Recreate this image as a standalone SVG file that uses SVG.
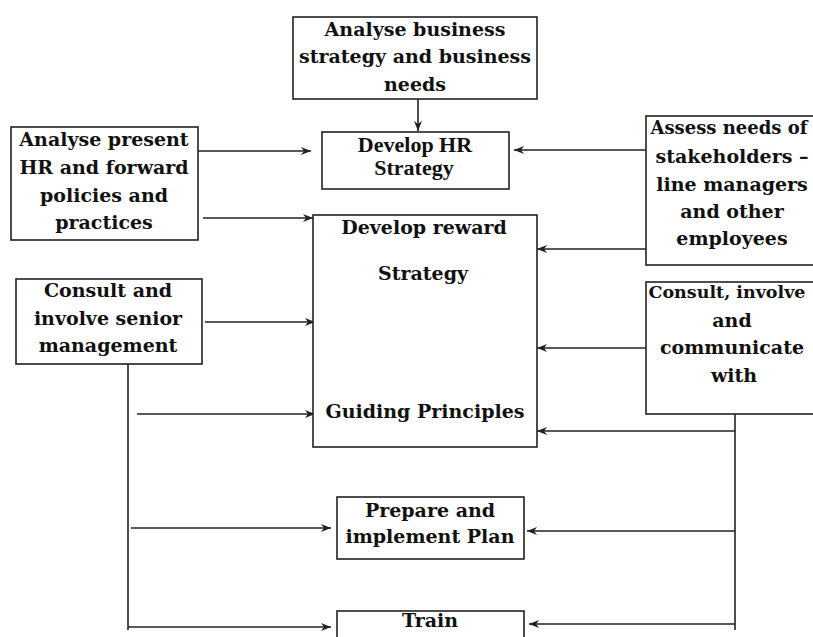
<svg xmlns="http://www.w3.org/2000/svg" width="813" height="637" viewBox="0 0 813 637">
<defs>
<marker id="ah" markerWidth="12" markerHeight="10" refX="10" refY="4" orient="auto" markerUnits="userSpaceOnUse">
<path d="M0,0 L10,4 L0,8 L3,4 z" fill="#222"/>
</marker>
<style>
.box{fill:#fff;stroke:#222;stroke-width:1.6}
.t{font-family:"DejaVu Serif","Liberation Serif",serif;font-weight:bold;font-size:19px;fill:#111;text-anchor:middle}
.c{font-family:"Liberation Serif","DejaVu Serif",serif;font-weight:bold;font-size:22px;fill:#111;text-anchor:middle}
.ln{fill:none;stroke:#222;stroke-width:1.6}
.ar{fill:none;stroke:#222;stroke-width:1.6;marker-end:url(#ah)}
</style>
</defs>
<rect width="813" height="637" fill="#fff"/>
<g id="connectors">
<line class="ar" x1="418" y1="99" x2="418" y2="131"/>
<line class="ar" x1="198" y1="151" x2="311" y2="151"/>
<line class="ar" x1="646" y1="150" x2="514" y2="150"/>
<line class="ar" x1="203" y1="218" x2="313" y2="218"/>
<line class="ar" x1="646" y1="249" x2="537" y2="249"/>
<line class="ar" x1="205" y1="322" x2="315" y2="322"/>
<line class="ar" x1="137" y1="414" x2="315" y2="414"/>
<line class="ar" x1="646" y1="348" x2="537" y2="348"/>
<line class="ar" x1="735" y1="431" x2="537" y2="431"/>
<line class="ln" x1="128" y1="364" x2="128" y2="630"/>
<line class="ar" x1="131" y1="528" x2="331" y2="528"/>
<line class="ar" x1="128" y1="627" x2="331" y2="627"/>
<line class="ln" x1="735" y1="414" x2="735" y2="630"/>
<line class="ar" x1="735" y1="531" x2="527" y2="531"/>
<line class="ar" x1="735" y1="624" x2="529" y2="624"/>
</g>
<g id="n-business">
<rect class="box" x="293" y="17" width="244" height="82"/>
<text class="t" x="415" y="36">Analyse business</text>
<text class="t" x="415" y="63">strategy and business</text>
<text class="t" x="415" y="91">needs</text>
</g>
<g id="n-hrstrategy">
<rect class="box" x="322" y="132" width="187" height="57"/>
<text class="c" x="415" y="152">Develop HR</text>
<text class="c" x="414" y="175">Strategy</text>
</g>
<g id="n-present">
<rect class="box" x="11" y="127" width="187" height="113"/>
<text class="t" x="104" y="146">Analyse present</text>
<text class="t" x="104" y="174">HR and forward</text>
<text class="t" x="104" y="202">policies and</text>
<text class="t" x="104" y="229">practices</text>
</g>
<g id="n-stakeholders">
<rect class="box" x="646" y="116" width="172" height="149"/>
<text class="t" x="729" y="134" style="font-size:18px">Assess needs of</text>
<text class="t" x="732" y="163">stakeholders –</text>
<text class="t" x="732" y="191">line managers</text>
<text class="t" x="732" y="218">and other</text>
<text class="t" x="732" y="245">employees</text>
</g>
<g id="n-reward">
<rect class="box" x="313" y="215" width="224" height="232"/>
<text class="t" x="424" y="234">Develop reward</text>
<text class="t" x="423" y="280">Strategy</text>
<text class="t" x="425" y="418">Guiding Principles</text>
</g>
<g id="n-senior">
<rect class="box" x="16" y="279" width="186" height="85"/>
<text class="t" x="108" y="297">Consult and</text>
<text class="t" x="108" y="325">involve senior</text>
<text class="t" x="108" y="352">management</text>
</g>
<g id="n-communicate">
<rect class="box" x="646" y="282" width="172" height="132"/>
<text class="t" x="727" y="298" style="font-size:17.5px">Consult, involve</text>
<text class="t" x="732" y="327">and</text>
<text class="t" x="732" y="354">communicate</text>
<text class="t" x="734" y="382">with</text>
</g>
<g id="n-plan">
<rect class="box" x="337" y="497" width="187" height="62"/>
<text class="t" x="430" y="517">Prepare and</text>
<text class="t" x="430" y="543">implement Plan</text>
</g>
<g id="n-train">
<rect class="box" x="337" y="611" width="187" height="40"/>
<text class="t" x="430" y="627">Train</text>
</g>
</svg>
